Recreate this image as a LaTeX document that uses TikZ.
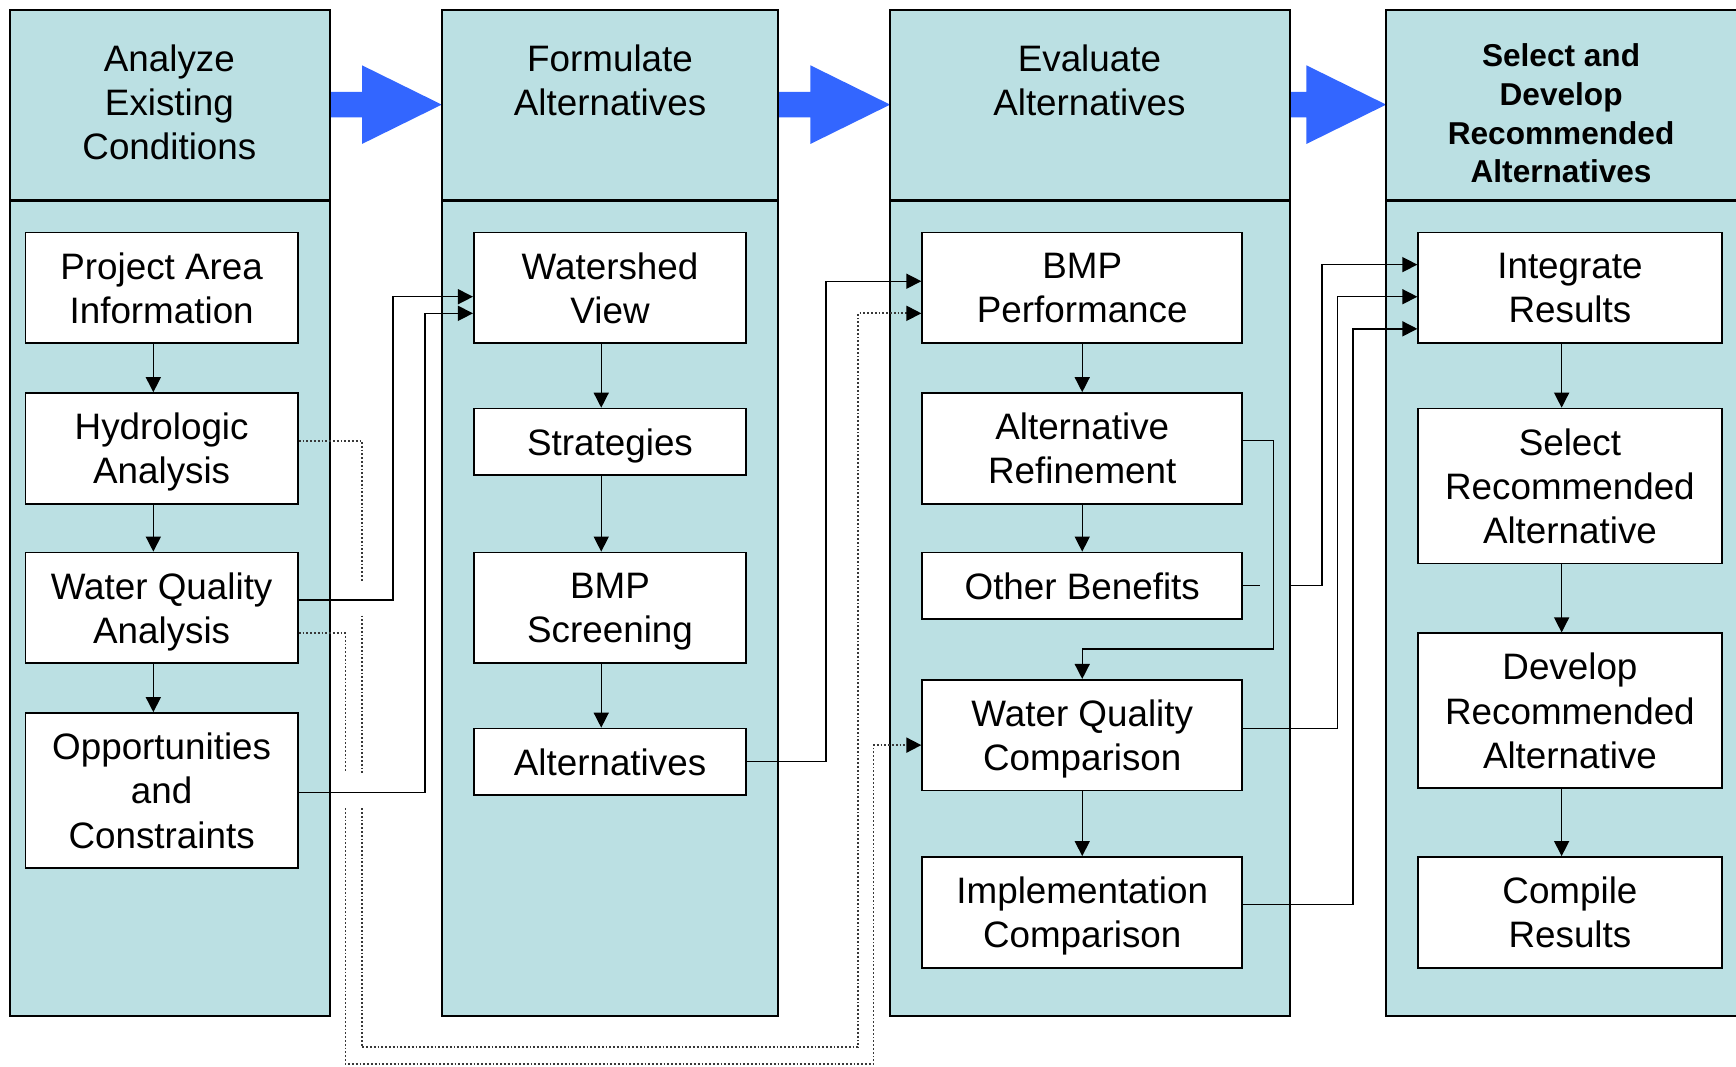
\documentclass[tikz,border=0pt]{standalone}
\usepackage{fontspec}
\setmainfont{Liberation Sans}
\usepackage{tikz}
\usetikzlibrary{arrows.meta}
\usepackage{xcolor}

\definecolor{stagefill}{RGB}{187,224,227}
\definecolor{stageblue}{RGB}{51,102,255}
\definecolor{linkgray}{RGB}{56,56,56}

\newcommand{\taskfont}{\fontsize{18.4pt}{22.1pt}\selectfont}
\newcommand{\finalfont}{\fontsize{15.8pt}{19.4pt}\selectfont\bfseries}

\tikzset{
  stage/.style={draw, line width=1.1pt, fill=stagefill},
  stagehead/.style={anchor=north, align=center, inner sep=0pt, font=\taskfont},
  task/.style={draw, line width=0.85pt, fill=white, align=center, inner sep=0pt,
    font=\taskfont, text depth=-2.2pt, minimum width=136.2pt, minimum height=55.35pt},
  low/.style={minimum height=33.2pt},
  high/.style={minimum height=77.5pt},
  flow/.style={line width=0.7pt, -{Triangle[length=7.5pt,width=7.5pt]}},
  link/.style={line width=0.9pt, linkgray, dash pattern=on 0.9pt off 1pt,
    -{Triangle[length=7.5pt,width=7.5pt,color=black]}},
}

\begin{document}
\begin{tikzpicture}[x=0.5535pt, y=-0.5535pt]
\useasboundingbox (0,0) rectangle (1568,963);

% block arrows between the stages
\foreach \a/\b in {298/327, 703/732, 1165/1180}
  \fill[stageblue] (\a-6,83) -- (\b,83) -- (\b,59) -- (\b+72,94.5) -- (\b,130) -- (\b,106) -- (\a-6,106) -- cycle;

% stage columns and title bars
\draw[stage] (9,9) rectangle (298,918) coordinate (c1se);
\draw[stage] (399,9) rectangle (703,918) coordinate (c2se);
\draw[stage] (804,9) rectangle (1165,918) coordinate (c3se);
\draw[stage] (1252,9) rectangle (1580,918) coordinate (c4se);
\foreach \l/\r in {9/298, 399/703, 804/1165, 1252/1580}
  \draw[line width=1.1pt] (\l,181) -- (\r,181);

\node[stagehead] (h1) at (153,40) {Analyze\\Existing\\Conditions};
\node[stagehead] (h2) at (551,40) {Formulate\\Alternatives};
\node[stagehead] (h3) at (984,40) {Evaluate\\Alternatives};
\node[stagehead, font=\finalfont] (h4) at (1410,39) {Select and\\Develop\\Recommended\\Alternatives};

% existing conditions
\node[task] (b11) at (146,260) {Project Area\\Information};
\node[task] (b12) at (146,405) {Hydrologic\\Analysis};
\node[task] (b13) at (146,549) {Water Quality\\Analysis};
\node[task, high] (b14) at (146,714) {Opportunities\\and\\Constraints};

% formulate
\node[task] (b21) at (551,260) {Watershed\\View};
\node[task, low] (b22) at (551,399) {Strategies};
\node[task] (b23) at (551,549) {BMP\\Screening};
\node[task, low] (b24) at (551,688) {Alternatives};

% evaluate
\begin{scope}[task/.append style={minimum width=160pt}]
\node[task] (b31) at (977.5,260) {BMP\\Performance};
\node[task] (b32) at (977.5,405) {Alternative\\Refinement};
\node[task, low] (b33) at (977.5,529) {Other Benefits};
\node[task] (b34) at (977.5,664) {Water Quality\\Comparison};
\node[task] (b35) at (977.5,824) {Implementation\\Comparison};
\end{scope}

% select and develop
\begin{scope}[task/.append style={minimum width=151.7pt}]
\node[task] (b41) at (1418,260) {Integrate\\Results};
\node[task, high] (b42) at (1418,439) {Select\\Recommended\\Alternative};
\node[task, high] (b43) at (1418,642) {Develop\\Recommended\\Alternative};
\node[task] (b44) at (1418,824) {Compile\\Results};
\end{scope}

% steps inside each stage
\foreach \p/\q in {b11/b12, b12/b13, b13/b14}
  \draw[flow] ([xshift=-4.15pt]\p.south) -- ([xshift=-4.15pt]\q.north);
\foreach \p/\q in {b21/b22, b22/b23, b23/b24}
  \draw[flow] ([xshift=-4.4pt]\p.south) -- ([xshift=-4.4pt]\q.north);
\foreach \p/\q in {b31/b32, b32/b33, b34/b35}
  \draw[flow] (\p.south) -- (\q.north);
\foreach \p/\q in {b41/b42, b42/b43, b43/b44}
  \draw[flow] ([xshift=-4.15pt]\p.south) -- ([xshift=-4.15pt]\q.north);

% links between stages
\draw[flow] (b13.east |- 0,542) -| (355,268) -- (b21.west |- 0,268);
\draw[flow] (b14.east |- 0,716) -| (384,283) -- (b21.west |- 0,283);
\draw[flow] (b24.east) -| (746,254) -- (b31.west |- 0,254);
\draw[flow] (b32.east |- 0,398) -| (1150,586) -| (b34.north);
\draw[line width=0.7pt] (b33.east) -- ++(15,0);
\draw[flow] (c3se |- b33.east) -| (1194,239) -- (b41.west |- 0,239);
\draw[flow] (b34.east |- 0,658) -| (1208,268) -- (b41.west |- 0,268);
\draw[flow] (b35.east |- 0,817) -| (1222,297) -- (b41.west |- 0,297);

% dotted links, broken where they cross
\draw[link] (b12.east |- 0,398) -| (327,526) (327,556) -- (327,698)
  (327,730) |- (775,946) |- (b31.west |- 0,283);
\draw[link] (b13.east |- 0,572) -| (312,698) (312,730) |- (789,961)
  |- (b34.west |- 0,673);
\end{tikzpicture}
\end{document}
